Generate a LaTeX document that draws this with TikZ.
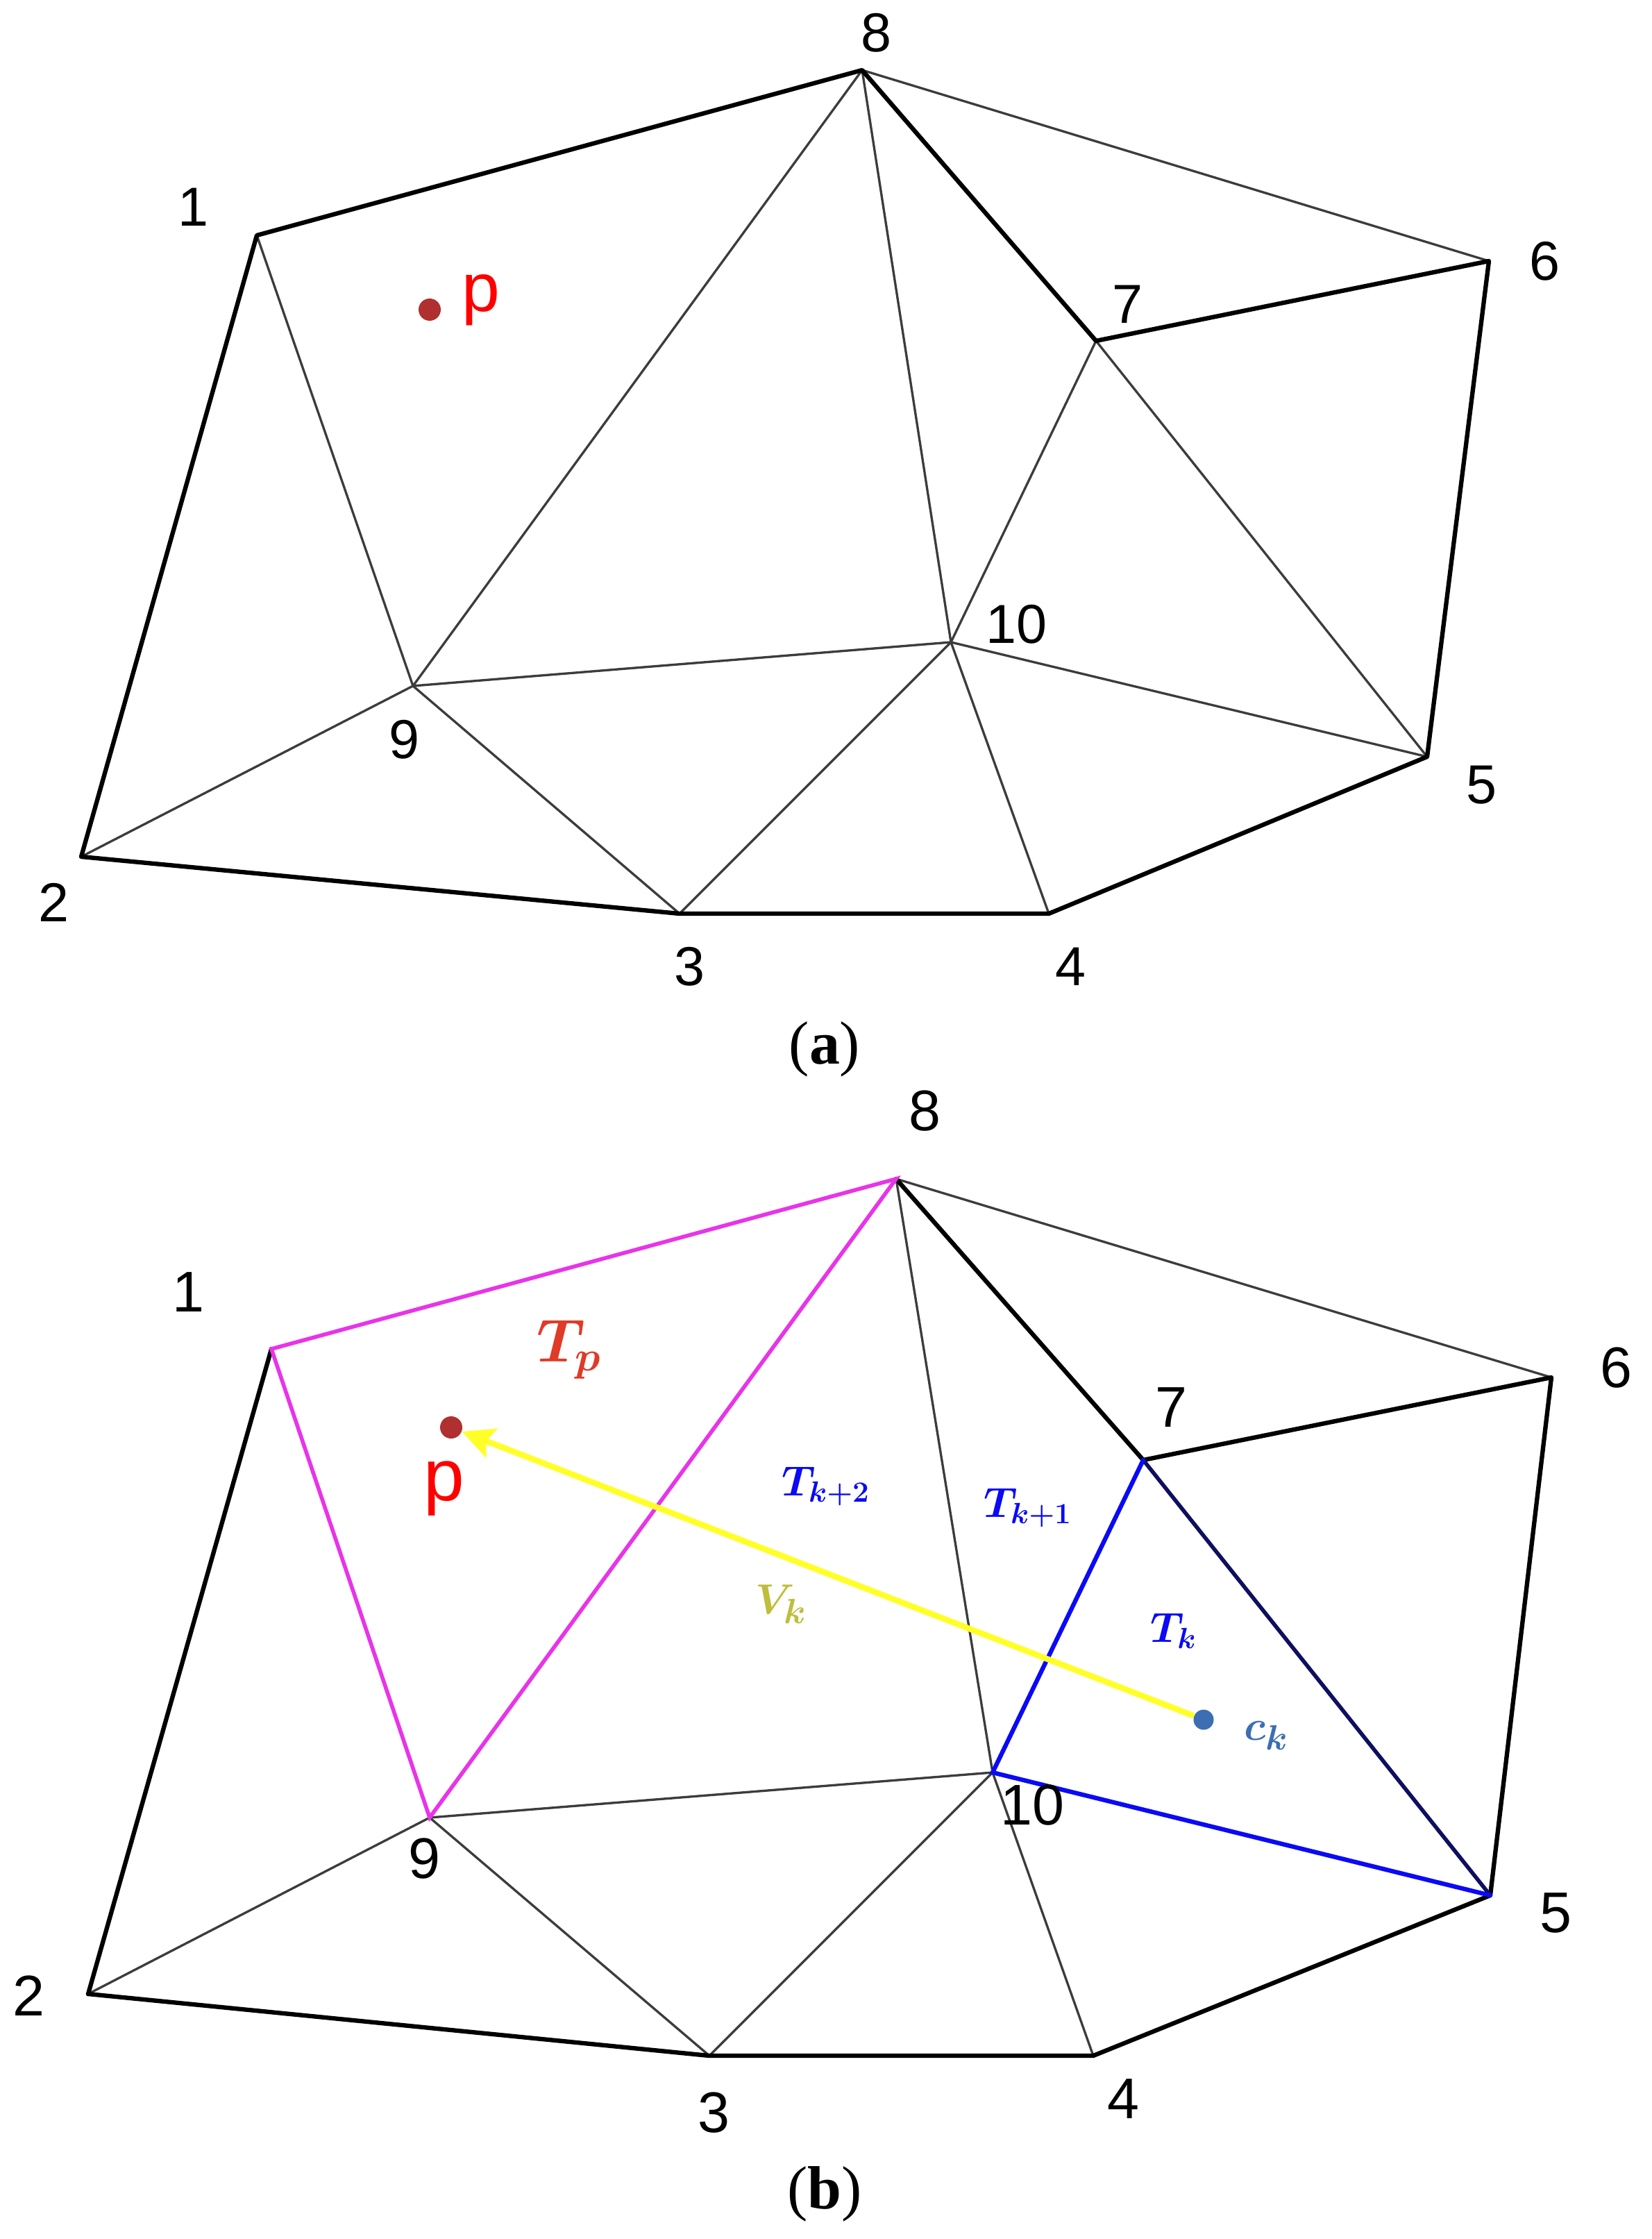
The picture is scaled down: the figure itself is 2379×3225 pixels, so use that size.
\documentclass[tikz,border=0pt]{standalone}
\usepackage{amsmath,bm}
\usepackage{xcolor}
\usepackage{fontspec}
\setmainfont{Liberation Serif}
\newfontfamily\numfont{Liberation Sans}
\usetikzlibrary{arrows.meta}
\DeclareMathSizes{16.5}{16.5}{13}{10}
\DeclareMathSizes{18}{18}{14}{10}
\DeclareMathSizes{23}{23}{17.5}{12}

\definecolor{meshgray}{RGB}{60,60,60}
\definecolor{dotred}{RGB}{176,48,48}
\definecolor{tpmag}{RGB}{232,52,232}
\definecolor{tkblue}{RGB}{10,10,245}
\definecolor{tknavy}{RGB}{15,15,95}
\definecolor{vecyel}{RGB}{255,255,40}
\definecolor{tpred}{RGB}{224,58,40}
\definecolor{vkolive}{RGB}{190,190,60}
\definecolor{ckblue}{RGB}{60,110,178}

\begin{document}
\begin{tikzpicture}[
  x=0.01cm, y=-0.01cm,
  mesh/.style={meshgray, line width=0.95pt, line cap=round},
  hull/.style={black, line width=1.8pt, line cap=round, line join=round},
  tpside/.style={tpmag, line width=1.6pt, line cap=round},
  tkside/.style={tkblue, line width=1.8pt, line cap=round},
  vec/.style={-{Stealth[length=13pt, width=12.5pt, inset=2.5pt]}, vecyel, line width=2.4pt},
  vlbl/.style={font=\numfont\fontsize{22.5}{27}\selectfont, inner sep=0pt},
  vlblb/.style={font=\numfont\fontsize{23.5}{28}\selectfont, inner sep=0pt},
  plbl/.style={font=\numfont\fontsize{28}{32}\selectfont, text=red, inner sep=0pt},
  pdot/.style={circle, fill=dotred, minimum size=0.32cm, inner sep=0pt},
  cdot/.style={circle, fill=ckblue, minimum size=0.29cm, inner sep=0pt},
  tlbl/.style={font=\fontsize{16.5}{20}\selectfont, text=tkblue, inner sep=0pt},
  subcap/.style={font=\fontsize{25}{30}\selectfont, inner sep=0pt},
]
  \useasboundingbox (0,0) rectangle (2379,3225);

  % (a) mesh vertices
  \coordinate (a1) at (370,339);
  \coordinate (a2) at (117,1234);
  \coordinate (a3) at (979,1316);
  \coordinate (a4) at (1511,1316);
  \coordinate (a5) at (2056,1090);
  \coordinate (a6) at (2145,376);
  \coordinate (a7) at (1579,491);
  \coordinate (a8) at (1242,101);
  \coordinate (a9) at (595,988);
  \coordinate (a10) at (1370,925);

  % (a) inner edges
  \draw[mesh] (a1) -- (a9) (a9) -- (a8) (a8) -- (a10) (a10) -- (a7);
  \draw[mesh] (a7) -- (a5) (a10) -- (a5) (a9) -- (a10) (a8) -- (a6);
  \draw[mesh] (a9) -- (a2) (a9) -- (a3) (a3) -- (a10) (a10) -- (a4);

  % (a) outline
  \draw[hull] (a2) -- (a1) -- (a8) -- (a7) -- (a6) -- (a5) -- (a4) -- (a3) -- cycle;

  \node[pdot] (ap) at (619,446) {};
  \node[plbl] (apl) at (693,432) {p};

  \node[vlbl] (la1) at (278,298) {1};
  \node[vlbl] (la2) at (78,1300) {2};
  \node[vlbl] (la3) at (993,1392) {3};
  \node[vlbl] (la4) at (1542,1392) {4};
  \node[vlbl] (la5) at (2134,1131) {5};
  \node[vlbl] (la6) at (2225,376) {6};
  \node[vlbl] (la7) at (1624,438) {7};
  \node[vlbl] (la8) at (1262,47) {8};
  \node[vlbl] (la9) at (582,1065) {9};
  \node[vlbl] (la10) at (1464,899) {10};
  \node[subcap] (capa) at (1188,1511) {(\textbf{a})};

  % (b) mesh vertices
  \coordinate (b1) at (391,1943);
  \coordinate (b2) at (127,2872);
  \coordinate (b3) at (1022,2961);
  \coordinate (b4) at (1575,2961);
  \coordinate (b5) at (2147,2730);
  \coordinate (b6) at (2235,1984);
  \coordinate (b7) at (1647,2103);
  \coordinate (b8) at (1291,1698);
  \coordinate (b9) at (619,2618);
  \coordinate (b10) at (1430,2553);

  % (b) inner edges
  \draw[mesh] (b8) -- (b10) (b9) -- (b10) (b8) -- (b6);
  \draw[mesh] (b9) -- (b2) (b9) -- (b3) (b3) -- (b10) (b10) -- (b4);

  % (b) outline
  \draw[hull] (b2) -- (b1);
  \draw[hull] (b8) -- (b7) -- (b6) -- (b5) -- (b4) -- (b3) -- (b2);

  % triangle T_p
  \draw[tpside] (b1) -- (b8) -- (b9) -- cycle;

  % triangle T_k
  \draw[tknavy, line width=1.6pt, line cap=round] (b7) -- (b5);
  \draw[tkside] (b5) -- (b10) -- (b7);

  \node[pdot] (bp) at (650,2056) {};
  \node[cdot] (bc) at (1734,2477) {};
  \draw[vec] (bc) -- (bp);

  \node[plbl, font=\numfont\fontsize{30}{34}\selectfont] (bpl) at (640,2144) {p};
  \node[tlbl, text=tpred, font=\fontsize{23}{27}\selectfont] (ltp) at (820,1944) {$\bm{T_p}$};
  \node[tlbl] (ltk2) at (1190,2141) {$\bm{T_{k+2}}$};
  \node[tlbl] (ltk1) at (1481,2172) {$\bm{T_{k+1}}$};
  \node[tlbl] (ltk) at (1691,2349) {$\bm{T_k}$};
  \node[tlbl, text=vkolive, font=\fontsize{18}{21}\selectfont] (lvk) at (1126,2311) {$\bm{V_k}$};
  \node[tlbl, text=ckblue, font=\fontsize{18}{21}\selectfont] (lck) at (1825,2500) {$\bm{c_k}$};

  \node[vlblb] (lb1) at (271,1861) {1};
  \node[vlblb] (lb2) at (41,2875) {2};
  \node[vlblb] (lb3) at (1028,3043) {3};
  \node[vlblb] (lb4) at (1618,3023) {4};
  \node[vlblb] (lb5) at (2241,2755) {5};
  \node[vlblb] (lb6) at (2328,1970) {6};
  \node[vlblb] (lb7) at (1687,2027) {7};
  \node[vlblb] (lb8) at (1332,1600) {8};
  \node[vlblb] (lb9) at (611,2677) {9};
  \node[vlblb] (lb10) at (1487,2600) {10};
  \node[subcap] (capb) at (1188,3160) {(\textbf{b})};
\end{tikzpicture}
\end{document}
